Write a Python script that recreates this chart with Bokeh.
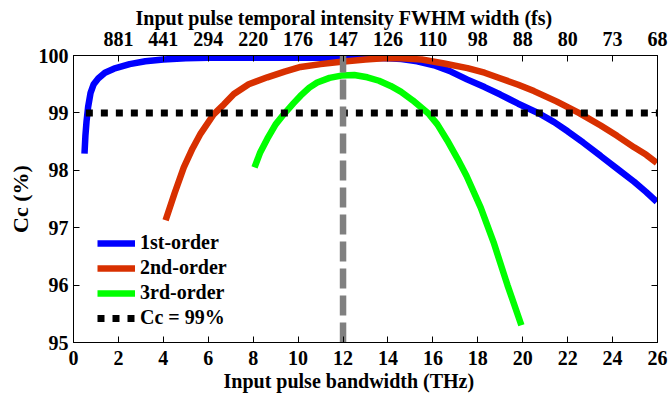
from bokeh.plotting import figure
from bokeh.models import LinearAxis, FixedTicker, Legend, LegendItem, Title
from bokeh.embed import file_html
from bokeh.resources import INLINE

# ---- data ----
bw_ticks = [2, 4, 6, 8, 10, 12, 14, 16, 18, 20, 22, 24, 26]
fwhm_labels = ["881", "441", "294", "220", "176", "147", "126", "110", "98", "88", "80", "73", "68"]
y_ticks = [95, 96, 97, 98, 99, 100]

first_x = [0.49, 0.53, 0.58, 0.65, 0.76, 0.9, 1.1, 1.4, 1.8, 2.5, 3.2, 4.0, 5.0, 6.0, 8.0,
           10.0, 12.0, 13.0, 14.0, 14.6, 15.3, 16.05, 16.8, 17.54, 18.3, 19.0, 19.8, 20.73,
           21.4, 22.0, 22.7, 23.47, 24.2, 24.96, 25.5, 25.97]
first_y = [98.29, 98.6, 98.85, 99.1, 99.35, 99.5, 99.6, 99.7, 99.77, 99.85, 99.9, 99.93, 99.95,
           99.96, 99.96, 99.96, 99.96, 99.96, 99.95, 99.94, 99.9, 99.83, 99.72, 99.58, 99.45,
           99.32, 99.16, 98.99, 98.84, 98.68, 98.48, 98.25, 98.03, 97.8, 97.62, 97.45]

second_x = [4.1, 4.5, 4.91, 5.3, 5.66, 6.25, 6.7, 7.14, 7.8, 8.63, 9.4, 10.11, 11.0, 11.92,
            13.0, 13.8, 14.6, 15.5, 16.5, 17.54, 18.3, 19.02, 19.8, 20.5, 21.5, 22.5, 23.47,
            24.2, 24.96, 25.5, 25.97]
second_y = [97.13, 97.6, 98.05, 98.38, 98.64, 98.98, 99.15, 99.33, 99.5, 99.62, 99.72, 99.8,
            99.85, 99.89, 99.93, 99.95, 99.95, 99.93, 99.86, 99.78, 99.7, 99.6, 99.49, 99.38,
            99.2, 99.0, 98.78, 98.6, 98.4, 98.27, 98.13]

third_x = [8.06, 8.3, 8.63, 9.0, 9.37, 9.8, 10.11, 10.5, 10.85, 11.4, 11.92, 12.5, 13.08,
           13.6, 14.12, 14.57, 15.1, 15.8, 16.2, 16.64, 17.1, 17.5, 18.13, 18.7, 19.32, 19.94]
third_y = [98.05, 98.3, 98.55, 98.8, 98.98, 99.17, 99.3, 99.44, 99.53, 99.61, 99.65, 99.66,
           99.62, 99.56, 99.47, 99.37, 99.22, 98.99, 98.8, 98.52, 98.2, 97.9, 97.35, 96.75,
           96.0, 95.3]

thr_x = [0.55, 26.0]
thr_y = [99.0, 99.0]
mark_x = [12.0, 12.0]
mark_y = [95.0, 100.0]

FONT = "Liberation Serif"

p = figure(width=668, height=395, x_range=(0, 26), y_range=(95, 100),
           output_backend="svg", toolbar_location=None,
           x_axis_type=None, y_axis_type=None,
           min_border_left=73, min_border_right=11, min_border_top=55, min_border_bottom=53)
p.grid.visible = False
p.outline_line_color = "black"
p.outline_line_width = 1
p.background_fill_color = "white"
p.border_fill_color = "white"


def style_axis(ax):
    ax.major_tick_in = 6
    ax.major_tick_out = 0
    ax.minor_tick_line_color = None
    ax.axis_line_color = "black"
    ax.major_tick_line_color = "black"
    ax.major_label_text_font = FONT
    ax.major_label_text_font_style = "bold"
    ax.major_label_text_font_size = "20px"
    ax.major_label_text_color = "black"
    ax.axis_label_text_font = FONT
    ax.axis_label_text_font_style = "bold"
    ax.axis_label_text_font_size = "22px"
    ax.axis_label_text_color = "black"


def make_title(text, offset):
    t = Title(text=text, align="left", offset=offset, standoff=0)
    t.text_font = FONT
    t.text_font_style = "bold"
    t.text_font_size = "20px"
    t.text_color = "black"
    return t


bottom = LinearAxis(ticker=FixedTicker(ticks=[0] + bw_ticks))
style_axis(bottom)
bottom.major_label_standoff = 8
p.add_layout(bottom, "below")
p.add_layout(make_title("Input pulse bandwidth (THz)", 150), "below")

left = LinearAxis(ticker=FixedTicker(ticks=y_ticks), axis_label="Cc (%)")
style_axis(left)
left.major_label_standoff = 5
left.axis_label_standoff = 3
p.add_layout(left, "left")

top = LinearAxis(ticker=FixedTicker(ticks=bw_ticks))
style_axis(top)
top.major_label_overrides = {t: l for t, l in zip(bw_ticks, fwhm_labels)}
top.major_label_standoff = 10
p.add_layout(top, "above")
p.add_layout(make_title("Input pulse temporal intensity FWHM width (fs)", 62), "above")

right = LinearAxis(ticker=FixedTicker(ticks=y_ticks))
style_axis(right)
right.major_label_overrides = {t: "" for t in y_ticks}
right.major_label_standoff = 0
p.add_layout(right, "right")

r1 = p.line(first_x, first_y, line_color="#0000ff", line_width=6.5)
r2 = p.line(second_x, second_y, line_color="#d83000", line_width=6.5)
r3 = p.line(third_x, third_y, line_color="#00ff00", line_width=6.5)
r4 = p.line(thr_x, thr_y, line_color="black", line_width=7, line_dash="7 8")
p.line(mark_x, mark_y, line_color="#808080", line_width=6.5, line_dash="20 7")

legend = Legend(items=[LegendItem(label="1st-order", renderers=[r1]),
                       LegendItem(label="2nd-order", renderers=[r2]),
                       LegendItem(label="3rd-order", renderers=[r3]),
                       LegendItem(label="Cc = 99%", renderers=[r4])],
                location=(24, 13))
legend.border_line_color = None
legend.background_fill_alpha = 0
legend.padding = 0
legend.margin = 0
legend.spacing = 2
legend.glyph_width = 38
legend.glyph_height = 20
legend.label_height = 20
legend.label_standoff = 5
legend.label_text_font = FONT
legend.label_text_font_style = "bold"
legend.label_text_font_size = "20px"
legend.label_text_color = "black"
p.add_layout(legend, "center")

open("out.html", "w").write(file_html(p, INLINE))
